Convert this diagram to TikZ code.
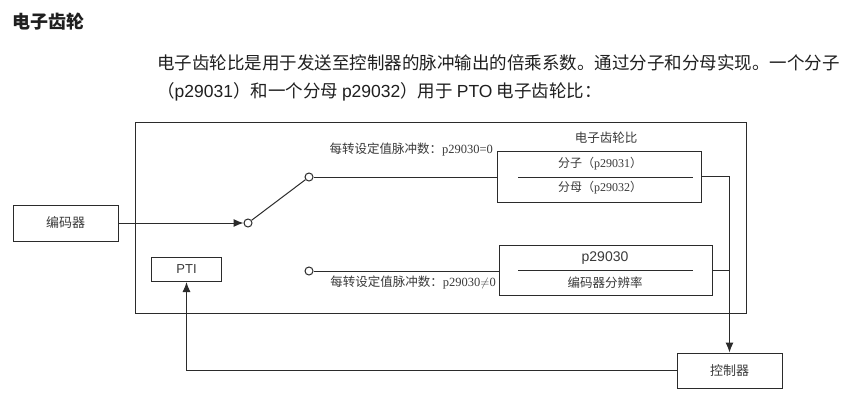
\documentclass[tikz,border=0pt]{standalone}
\usepackage{fontspec}
\setmainfont{Liberation Serif}
\newfontfamily\cjk{Noto Sans CJK SC}
\newfontfamily\arial{Liberation Sans}
\usetikzlibrary{arrows.meta}
\definecolor{ln}{HTML}{2B2B2B}
\definecolor{tx}{HTML}{3A3A3A}
\begin{document}
\begin{tikzpicture}[x=1pt,y=-1pt,
  box/.style={draw=ln, line width=1pt, inner sep=0pt, text=tx, font=\fontsize{12.5}{14}\selectfont},
  lbl/.style={inner sep=0pt, text=tx, font=\fontsize{12.5}{14}\selectfont},
  con/.style={draw=ln, line width=1pt},
  arr/.style={con, -{Latex[length=10pt,width=8pt]}},
  sw/.style={circle, draw=ln, line width=1pt, fill=white, inner sep=0pt, minimum size=8pt},
  body/.style={inner sep=0pt, anchor=base west, text=black!88, font=\fontsize{17.5}{20}\selectfont}]
\useasboundingbox (0,0) rectangle (843,412);
\fill[white] (0,0) rectangle (843,412);
% heading and paragraph
\node[body, font=\fontsize{18}{20}\selectfont\bfseries] (title) at (12,29) {\cjk 电子齿轮};
\node[body] (p1) at (157,70) {\cjk 电子齿轮比是用于发送至控制器的脉冲输出的倍乘系数。通过分子和分母实现。一个分子};
\node[body] (p2) at (157,97) {{\cjk （}{\arial p29031}{\cjk ）和一个分母 }{\arial p29032}{\cjk ）用于 }{\arial PTO}\ {\cjk 电子齿轮比：}};
% frame
\node[box, minimum width=611pt, minimum height=191pt] (outer) at (440.5,217.5) {};
% boxes
\node[box, minimum width=105pt, minimum height=36pt, font=\fontsize{13}{15}\selectfont] (enc) at (65.5,223) {\cjk 编码器};
\node[box, minimum width=70pt, minimum height=24pt, font=\fontsize{13}{15}\selectfont] (pti) at (186.5,269.5) {\arial PTI};
\node[box, minimum width=105pt, minimum height=35pt, font=\fontsize{13}{15}\selectfont] (ctl) at (729.5,370.5) {\cjk 控制器};
\node[box, minimum width=204pt, minimum height=51pt] (gear) at (599,176.5) {};
\node[box, minimum width=213pt, minimum height=50pt] (low) at (605.5,270) {};
% box contents
\node[lbl] (gtitle) at (606,138) {\cjk 电子齿轮比};
\node[lbl, font=\fontsize{12}{14}\selectfont] (num) at (600,164) {{\cjk 分子（}p29031{\cjk ）}};
\node[lbl, font=\fontsize{12}{14}\selectfont] (den) at (600,188) {{\cjk 分母（}p29032{\cjk ）}};
\coordinate (g1) at (518,177);
\coordinate (g2) at (693,177);
\draw[con] (g1) -- (g2);
\node[lbl, font=\fontsize{14}{16}\selectfont\arial] (par) at (605,258) {p29030};
\node[lbl] (res) at (605,283) {\cjk 编码器分辨率};
\coordinate (l1) at (518,270);
\coordinate (l2) at (693,270);
\draw[con] (l1) -- (l2);
% switch
\node[sw] (c0) at (248,223) {};
\node[sw] (c1) at (309,177) {};
\node[sw] (c2) at (309,271) {};
\node[lbl, anchor=east] (lab1) at (493,150) {{\cjk 每转设定值脉冲数：}p29030=0};
\node[lbl, anchor=east] (lab2) at (496,283) {{\cjk 每转设定值脉冲数：}p29030$\neq$0};
% connectors
\draw[arr] (enc.east) -- (c0.west);
\draw[con] (c0) -- (c1);
\draw[con] (c1.east) -- (c1 -| gear.west);
\draw[con] (c2.east) -- (c2 -| low.west);
\coordinate (j) at (729.5,176.5);
\draw[con] (gear.east) -- (j);
\draw[con] (low.east) -- (low.east -| j);
\draw[arr] (j) -- (ctl.north);
\draw[arr] (ctl.west) -- (ctl.west -| pti.south) -- (pti.south);
\end{tikzpicture}
\end{document}
